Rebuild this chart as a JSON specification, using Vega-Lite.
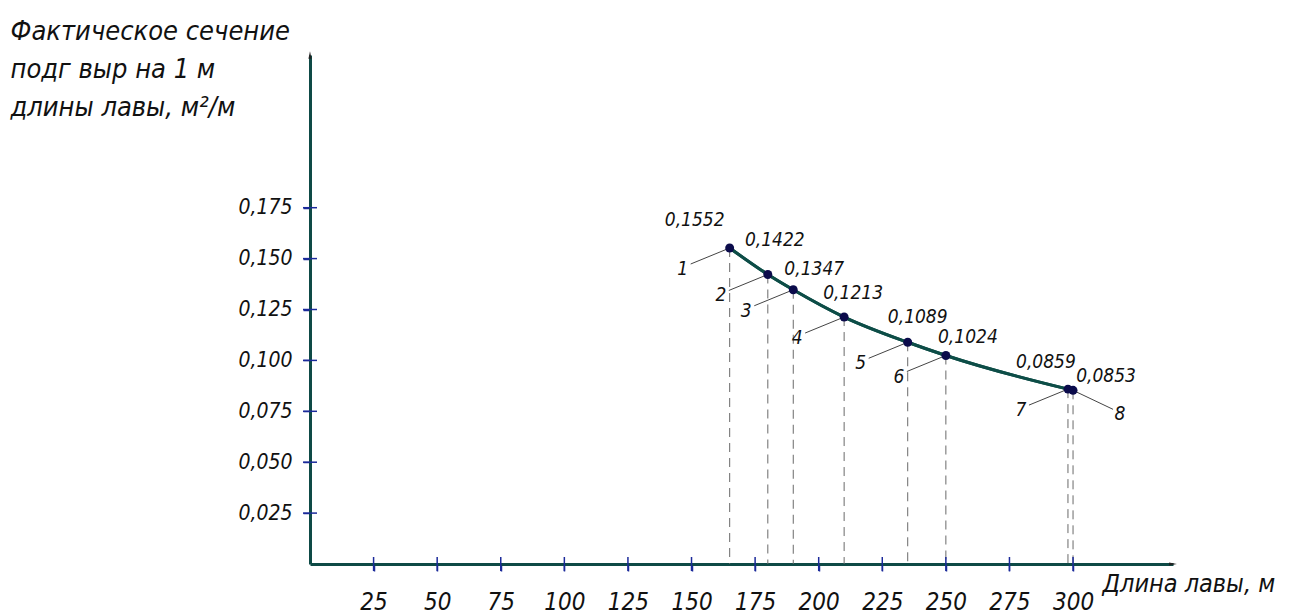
{
  "$schema": "https://vega.github.io/schema/vega-lite/v6.json",
  "autosize": {"type": "none"},
  "padding": {"left": 310, "top": 55, "right": 116, "bottom": 50},
  "width": 863,
  "height": 509,
  "background": "white",
  "config": {
    "view": {"stroke": null},
    "axis": {"grid": false},
    "text": {"font": "DejaVu Sans Condensed", "fontStyle": "italic", "fontSize": 19, "color": "#111111"}
  },
  "datasets": {
    "pts": [
      {"n": 1, "L": 165, "S": 0.1552, "lab": "0,1552"},
      {"n": 2, "L": 180, "S": 0.1422, "lab": "0,1422"},
      {"n": 3, "L": 190, "S": 0.1347, "lab": "0,1347"},
      {"n": 4, "L": 210, "S": 0.1213, "lab": "0,1213"},
      {"n": 5, "L": 235, "S": 0.1089, "lab": "0,1089"},
      {"n": 6, "L": 250, "S": 0.1024, "lab": "0,1024"},
      {"n": 7, "L": 298, "S": 0.0859, "lab": "0,0859"},
      {"n": 8, "L": 300, "S": 0.0853, "lab": "0,0853"}
    ],
    "xt": [{"L": 25}, {"L": 50}, {"L": 75}, {"L": 100}, {"L": 125}, {"L": 150}, {"L": 175}, {"L": 200}, {"L": 225}, {"L": 250}, {"L": 275}, {"L": 300}],
    "yt": [{"S": 0.025}, {"S": 0.05}, {"S": 0.075}, {"S": 0.1}, {"S": 0.125}, {"S": 0.15}, {"S": 0.175}]
  },
  "layer": [
    {
      "data": {"name": "pts"},
      "mark": {"type": "line", "interpolate": "monotone", "stroke": "#0d4d47", "strokeWidth": 3},
      "encoding": {
        "x": {
          "field": "L", "type": "quantitative",
          "scale": {"domain": [0, 339.3], "nice": false, "zero": false},
          "axis": {
            "values": [25, 50, 75, 100, 125, 150, 175, 200, 225, 250, 275, 300],
            "domainColor": "#0e4a46", "domainWidth": 3,
            "tickColor": "#1b2a9a", "tickSize": 7, "tickWidth": 1.5,
            "labelFont": "DejaVu Sans Condensed", "labelFontStyle": "italic", "labelFontSize": 24,
            "labelColor": "#111111", "labelPadding": 19, "labelFlush": false, "labelOverlap": false,
            "title": "Длина лавы, м",
            "titleX": 792, "titleY": 19, "titleAlign": "left", "titleBaseline": "middle", "titleAngle": 0,
            "titleFont": "DejaVu Sans Condensed", "titleFontStyle": "italic", "titleFontWeight": "normal",
            "titleFontSize": 25, "titleColor": "#111111"
          }
        },
        "y": {
          "field": "S", "type": "quantitative",
          "scale": {"domain": [0, 0.25], "nice": false, "zero": true},
          "axis": {
            "values": [0.025, 0.05, 0.075, 0.1, 0.125, 0.15, 0.175],
            "labelExpr": "replace(format(datum.value, '.3f'), '.', ',')",
            "domainColor": "#0e4a46", "domainWidth": 3,
            "tickColor": "#1b2a9a", "tickSize": 7, "tickWidth": 1.5,
            "labelFont": "DejaVu Sans Condensed", "labelFontStyle": "italic", "labelFontSize": 21,
            "labelColor": "#111111", "labelPadding": 11, "labelFlush": false, "labelOverlap": false,
            "title": ["Фактическое сечение", "\u2002подг выр на 1 м", "длины лавы, м²/м"],
            "titleX": -300, "titleY": -37, "titleAlign": "left", "titleBaseline": "top", "titleAngle": 0,
            "titleLineHeight": 38,
            "titleFont": "DejaVu Sans Condensed", "titleFontStyle": "italic", "titleFontWeight": "normal",
            "titleFontSize": 27, "titleColor": "#111111"
          }
        }
      }
    },
    {
      "data": {"name": "pts"},
      "mark": {"type": "rule", "strokeDash": [9, 6], "stroke": "#6a6a6a", "strokeWidth": 1},
      "encoding": {
        "x": {"field": "L", "type": "quantitative"},
        "y": {"field": "S", "type": "quantitative"},
        "y2": {"datum": 0}
      }
    },
    {
      "data": {"name": "pts"},
      "transform": [{"filter": "datum.n != 8"}],
      "mark": {"type": "rule", "stroke": "#444444", "strokeWidth": 1, "x2Offset": -39, "y2Offset": 16},
      "encoding": {
        "x": {"field": "L", "type": "quantitative"},
        "x2": {"field": "L"},
        "y": {"field": "S", "type": "quantitative"},
        "y2": {"field": "S"}
      }
    },
    {
      "data": {"name": "pts"},
      "transform": [{"filter": "datum.n == 8"}],
      "mark": {"type": "rule", "stroke": "#444444", "strokeWidth": 1, "x2Offset": 40, "y2Offset": 19},
      "encoding": {
        "x": {"field": "L", "type": "quantitative"},
        "x2": {"field": "L"},
        "y": {"field": "S", "type": "quantitative"},
        "y2": {"field": "S"}
      }
    },
    {
      "data": {"name": "pts"},
      "mark": {"type": "line", "interpolate": "monotone", "stroke": "#0d4d47", "strokeWidth": 3},
      "encoding": {
        "x": {"field": "L", "type": "quantitative"},
        "y": {"field": "S", "type": "quantitative"}
      }
    },
    {
      "data": {"name": "pts"},
      "mark": {"type": "circle", "size": 80, "color": "#0b0b4b", "opacity": 1},
      "encoding": {
        "x": {"field": "L", "type": "quantitative"},
        "y": {"field": "S", "type": "quantitative"}
      }
    },
    {
      "data": {"name": "pts"},
      "transform": [{"filter": "datum.n == 1"}],
      "mark": {"type": "text", "dx": -35, "dy": -28, "align": "center", "baseline": "middle"},
      "encoding": {"x": {"field": "L", "type": "quantitative"}, "y": {"field": "S", "type": "quantitative"}, "text": {"field": "lab"}}
    },
    {
      "data": {"name": "pts"},
      "transform": [{"filter": "datum.n == 2"}],
      "mark": {"type": "text", "dx": 7, "dy": -34, "align": "center", "baseline": "middle"},
      "encoding": {"x": {"field": "L", "type": "quantitative"}, "y": {"field": "S", "type": "quantitative"}, "text": {"field": "lab"}}
    },
    {
      "data": {"name": "pts"},
      "transform": [{"filter": "datum.n == 3"}],
      "mark": {"type": "text", "dx": 21, "dy": -21, "align": "center", "baseline": "middle"},
      "encoding": {"x": {"field": "L", "type": "quantitative"}, "y": {"field": "S", "type": "quantitative"}, "text": {"field": "lab"}}
    },
    {
      "data": {"name": "pts"},
      "transform": [{"filter": "datum.n == 4"}],
      "mark": {"type": "text", "dx": 9, "dy": -24, "align": "center", "baseline": "middle"},
      "encoding": {"x": {"field": "L", "type": "quantitative"}, "y": {"field": "S", "type": "quantitative"}, "text": {"field": "lab"}}
    },
    {
      "data": {"name": "pts"},
      "transform": [{"filter": "datum.n == 5"}],
      "mark": {"type": "text", "dx": 10, "dy": -25, "align": "center", "baseline": "middle"},
      "encoding": {"x": {"field": "L", "type": "quantitative"}, "y": {"field": "S", "type": "quantitative"}, "text": {"field": "lab"}}
    },
    {
      "data": {"name": "pts"},
      "transform": [{"filter": "datum.n == 6"}],
      "mark": {"type": "text", "dx": 22, "dy": -19, "align": "center", "baseline": "middle"},
      "encoding": {"x": {"field": "L", "type": "quantitative"}, "y": {"field": "S", "type": "quantitative"}, "text": {"field": "lab"}}
    },
    {
      "data": {"name": "pts"},
      "transform": [{"filter": "datum.n == 7"}],
      "mark": {"type": "text", "dx": -22, "dy": -27, "align": "center", "baseline": "middle"},
      "encoding": {"x": {"field": "L", "type": "quantitative"}, "y": {"field": "S", "type": "quantitative"}, "text": {"field": "lab"}}
    },
    {
      "data": {"name": "pts"},
      "transform": [{"filter": "datum.n == 8"}],
      "mark": {"type": "text", "dx": 33, "dy": -14, "align": "center", "baseline": "middle"},
      "encoding": {"x": {"field": "L", "type": "quantitative"}, "y": {"field": "S", "type": "quantitative"}, "text": {"field": "lab"}}
    },
    {
      "data": {"name": "pts"},
      "transform": [{"filter": "datum.n != 8"}],
      "mark": {"type": "text", "dx": -47, "dy": 21, "align": "center", "baseline": "middle", "fontSize": 19},
      "encoding": {"x": {"field": "L", "type": "quantitative"}, "y": {"field": "S", "type": "quantitative"}, "text": {"field": "n"}}
    },
    {
      "data": {"name": "pts"},
      "transform": [{"filter": "datum.n == 8"}],
      "mark": {"type": "text", "dx": 47, "dy": 24, "align": "center", "baseline": "middle", "fontSize": 19},
      "encoding": {"x": {"field": "L", "type": "quantitative"}, "y": {"field": "S", "type": "quantitative"}, "text": {"field": "n"}}
    },
    {
      "data": {"name": "xt"},
      "mark": {"type": "tick", "orient": "vertical", "size": 14, "thickness": 1.5, "color": "#1b2a9a", "opacity": 1},
      "encoding": {"x": {"field": "L", "type": "quantitative"}, "y": {"datum": 0}}
    },
    {
      "data": {"name": "yt"},
      "mark": {"type": "tick", "orient": "horizontal", "size": 14, "thickness": 1.5, "color": "#1b2a9a", "opacity": 1},
      "encoding": {"y": {"field": "S", "type": "quantitative"}, "x": {"datum": 0}}
    },
    {
      "data": {"values": [{}]},
      "mark": {"type": "point", "shape": "M-1,-0.4L1,0L-1,0.4Z", "size": 60, "filled": true, "color": "#222222", "opacity": 1},
      "encoding": {"x": {"datum": 339.3}, "y": {"datum": 0}}
    },
    {
      "data": {"values": [{}]},
      "mark": {"type": "point", "shape": "M-0.4,1L0,-1L0.4,1Z", "size": 60, "filled": true, "color": "#222222", "opacity": 1},
      "encoding": {"x": {"datum": 0}, "y": {"datum": 0.25}}
    }
  ]
}
